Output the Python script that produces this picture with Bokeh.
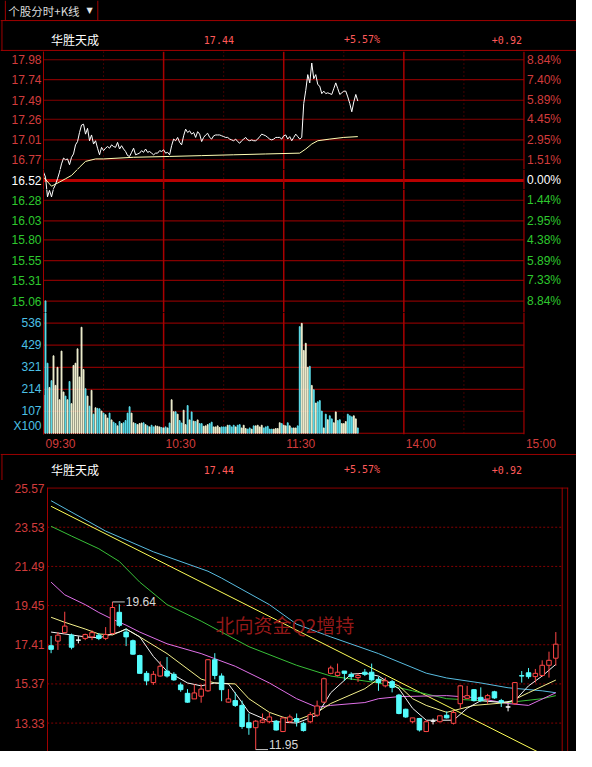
import numpy as np
from bokeh.plotting import figure
from bokeh.layouts import column
from bokeh.models import Range1d, LinearAxis, FixedTicker, Span, Label, Arrow
from bokeh.embed import file_html
from bokeh.resources import INLINE

# ---------------------------------------------------------------- data
panel_tab = "个股分时+K线"
stock_name = "华胜天成"
last_price = "17.44"
pct_change = "+5.57%"
abs_change = "+0.92"

price_ticks = [17.98, 17.74, 17.49, 17.26, 17.01, 16.77, 16.52,
               16.28, 16.03, 15.80, 15.55, 15.31, 15.06]
price_labels = ["17.98", "17.74", "17.49", "17.26", "17.01", "16.77", "16.52",
                "16.28", "16.03", "15.80", "15.55", "15.31", "15.06"]
pct_labels = ["8.84%", "7.40%", "5.89%", "4.45%", "2.95%", "1.51%", "0.00%",
              "1.44%", "2.95%", "4.38%", "5.89%", "7.33%", "8.84%"]
prev_close = 16.52
vol_ticks = [536, 429, 321, 214, 107]
vol_unit_label = "X100"
vol_unit_pos = 35
session = [0, 240]
time_ticks = [0, 60, 120, 180, 240]
time_labels = ["09:30", "10:30", "11:30", "14:00", "15:00"]
hour_marks = [60, 120, 180]
half_hour_marks = [30, 90, 150, 210]

# intraday price, one value per minute from 09:30
minute_price = [
    16.62, 16.56, 16.32, 16.40, 16.32, 16.42, 16.47, 16.54, 16.62, 16.72,
    16.79, 16.77, 16.78, 16.71, 16.80, 16.84, 16.95, 16.99, 17.10, 17.19,
    17.20, 17.08, 17.15, 17.00, 17.07, 16.96, 17.00, 16.91, 16.83, 16.92,
    16.88, 16.91, 16.93, 16.91, 16.95, 16.93, 16.92, 16.98, 16.90, 16.94,
    16.90, 16.87, 16.82, 16.81, 16.86, 16.91, 16.83, 16.84, 16.85, 16.88,
    16.86, 16.90, 16.86, 16.87, 16.85, 16.83, 16.85, 16.85, 16.88, 16.87,
    16.89, 16.85, 16.86, 16.83, 16.94, 17.02, 17.00, 17.04, 16.98, 16.95,
    17.06, 17.14, 17.10, 17.12, 17.08, 17.10, 17.04, 17.11, 17.08, 16.99,
    17.04, 17.07, 17.09, 17.04, 17.02, 17.06, 17.07, 17.07, 17.07, 17.06,
    17.05, 17.04, 17.04, 17.02, 17.01, 17.00, 17.02, 16.99, 16.97, 17.00,
    17.02, 17.04, 17.01, 17.00, 17.01, 17.00, 17.00, 17.02, 17.05, 17.08,
    17.07, 17.06, 17.04, 17.02, 17.01, 17.02, 17.04, 17.04, 17.04, 17.02,
    17.06, 17.07, 17.02, 17.05, 17.00, 17.04, 17.08, 17.05, 17.02, 17.04,
    17.45, 17.61, 17.80, 17.70, 17.94, 17.75, 17.80, 17.68, 17.66, 17.57,
    17.60, 17.57, 17.58, 17.57, 17.56, 17.63, 17.70, 17.63, 17.56, 17.58,
    17.60, 17.60, 17.53, 17.45, 17.35, 17.47, 17.56, 17.48]
avg_minute = [0, 4, 8, 11, 14, 18, 21, 26, 30, 45, 63, 79, 95, 111, 128,
              131, 134, 137, 143, 150, 157]
avg_price = [16.56, 16.45, 16.50, 16.54, 16.58, 16.68, 16.75, 16.78, 16.78,
             16.80, 16.81, 16.82, 16.83, 16.84, 16.85, 16.90, 16.96, 17.00,
             17.02, 17.04, 17.05]
minute_volume = [
    186, 643, 341, 223, 256, 377, 233, 321, 163, 400,
    201, 181, 163, 252, 144, 330, 341, 411, 274, 516,
    310, 217, 181, 132, 209, 93, 124, 121, 119, 108,
    98, 90, 74, 98, 65, 54, 47, 36, 57, 47,
    51, 62, 98, 129, 98, 51, 47, 42, 47, 50,
    51, 42, 36, 31, 39, 31, 36, 34, 31, 28,
    26, 31, 26, 50, 163, 105, 105, 93, 62, 50,
    112, 42, 135, 65, 104, 59, 57, 65, 47, 47,
    34, 36, 42, 47, 54, 31, 31, 36, 28, 31,
    31, 31, 39, 39, 31, 39, 31, 39, 42, 26,
    39, 23, 20, 26, 20, 36, 36, 39,
    31, 39, 26, 31, 34, 20, 20, 20, 23,
    23, 51, 47, 39, 36, 51, 36, 26, 26, 26,
    36, 519, 535, 403, 438, 321, 326, 233, 212, 147,
    153, 159, 108, 26, 93, 66, 85, 70, 51, 104,
    62, 66, 47, 47, 57, 93, 85, 80, 85, 70, 26]

# daily candles
k_open = [17.36, 17.60, 18.04, 17.91, 17.65, 17.74, 17.82, 17.91, 17.74, 17.99,
          19.10, 18.07, 17.62, 16.85, 15.92, 15.44, 15.78, 16.04, 15.87, 15.32,
          14.88, 14.59, 14.73, 15.01, 16.63, 15.78, 14.42, 14.50, 14.25, 13.35,
          13.09, 13.37, 13.40, 13.43, 12.89, 13.40, 13.57, 13.32, 13.40, 13.74,
          14.42, 15.92, 15.81, 16.04, 15.87, 15.70, 15.98, 15.98, 15.61, 15.27,
          15.49, 14.79, 14.05, 13.40, 13.57, 12.89, 13.43, 13.40, 13.74, 13.32,
          14.34, 14.62, 15.07, 14.67, 14.59, 14.96, 14.50, 14.17, 14.34, 15.80,
          15.95, 15.75, 15.81, 16.34, 16.71]
k_close = [17.17, 17.91, 18.38, 17.28, 17.65, 17.94, 18.04, 17.74, 17.94, 19.35,
           18.42, 17.82, 16.92, 15.92, 15.53, 15.87, 16.29, 15.78, 15.58, 15.07,
           14.42, 14.90, 15.10, 16.63, 15.81, 15.07, 14.59, 14.25, 13.15, 13.09,
           13.43, 13.49, 13.65, 12.97, 13.60, 13.65, 13.40, 12.94, 13.77, 14.22,
           15.64, 16.20, 15.98, 15.92, 15.75, 15.81, 15.87, 15.58, 15.44, 15.53,
           15.19, 13.83, 13.65, 13.60, 12.97, 13.40, 13.43, 13.71, 13.60, 13.88,
           15.27, 14.76, 14.50, 14.50, 14.76, 14.64, 14.42, 14.17, 15.44, 15.78,
           15.75, 15.92, 16.34, 16.60, 17.44]
k_high = [17.87, 18.07, 19.13, 17.99, 17.85, 17.99, 18.16, 18.02, 18.33, 19.64,
          19.52, 18.25, 17.68, 16.89, 16.04, 16.04, 16.55, 16.77, 15.98, 15.44,
          15.10, 15.35, 15.35, 16.66, 16.97, 15.92, 15.10, 14.93, 14.50, 13.83,
          13.49, 13.83, 13.86, 13.49, 13.65, 13.77, 13.83, 13.40, 13.91, 14.50,
          15.70, 16.32, 16.43, 16.04, 15.98, 15.92, 16.15, 16.43, 15.75, 15.70,
          15.58, 14.85, 14.08, 13.60, 13.60, 13.49, 13.57, 13.71, 13.94, 14.00,
          15.30, 15.27, 15.10, 15.19, 14.85, 15.01, 14.59, 14.34, 15.47, 16.04,
          16.20, 16.15, 16.60, 17.05, 18.07]
k_low = [16.97, 17.14, 17.99, 17.17, 17.48, 17.65, 17.65, 17.65, 17.65, 17.96,
         18.33, 17.34, 16.89, 15.92, 15.30, 15.32, 15.75, 15.70, 15.53, 14.96,
         14.39, 14.59, 14.39, 14.96, 15.61, 14.47, 14.39, 14.17, 13.03, 12.72,
         11.95, 13.32, 13.32, 12.94, 12.86, 13.32, 13.15, 12.89, 13.32, 13.65,
         14.39, 15.87, 15.75, 15.53, 15.58, 15.47, 15.78, 15.53, 15.01, 15.19,
         14.93, 13.79, 13.60, 13.32, 12.89, 12.86, 13.26, 13.37, 13.57, 13.26,
         14.08, 14.59, 14.45, 14.42, 14.34, 14.59, 14.17, 13.94, 14.29, 15.44,
         15.64, 15.44, 15.75, 15.70, 16.32]
k_ticks = [25.57, 23.53, 21.49, 19.45, 17.41, 15.37, 13.33]
k_tick_labels = ["25.57", "23.53", "21.49", "19.45", "17.41", "15.37", "13.33"]

ma5_day = [1, 3, 6, 8, 9, 11, 12, 14, 16, 18, 21, 23, 25, 27, 29, 30, 33, 35, 37,
           40, 42, 45, 47, 49, 52, 54, 56, 60, 62, 64, 67, 69, 71, 73, 75]
ma5_val = [18.07, 17.97, 17.82, 17.77, 17.87, 18.07, 18.23, 17.82, 16.80, 16.03,
           15.42, 15.27, 15.42, 15.37, 14.40, 13.89, 13.43, 13.38, 13.33, 13.74,
           14.91, 15.88, 15.93, 15.78, 15.12, 14.10, 13.48, 13.48, 14.10, 14.50,
           14.40, 14.50, 15.27, 15.78, 16.39]
ma10_day = [1, 3, 6, 8, 10, 12, 14, 18, 23, 25, 28, 30, 33, 35, 37, 40, 42, 47,
            49, 52, 54, 56, 59, 63, 68, 71, 75]
ma10_val = [18.84, 18.58, 18.23, 17.97, 17.92, 18.23, 17.82, 16.95, 15.62, 15.42,
            15.37, 14.60, 13.89, 13.64, 13.48, 13.89, 14.35, 15.12, 15.63, 15.27,
            14.60, 14.25, 13.89, 14.25, 14.40, 14.91, 15.57]
ma20_day = [1, 3, 6, 8, 10, 12, 14, 18, 23, 28, 33, 37, 40, 42, 47, 49, 52, 59,
            63, 68, 71, 75]
ma20_val = [20.67, 20.01, 19.50, 19.09, 18.74, 18.43, 18.07, 17.46, 16.95, 16.29,
            15.42, 14.60, 14.15, 14.25, 14.40, 14.60, 14.71, 14.76, 14.66, 14.35,
            14.25, 14.91]
ma60_day = [1, 4, 8, 11, 14, 18, 23, 30, 37, 42, 49, 54, 59, 64, 68, 73, 75]
ma60_val = [23.58, 23.07, 22.41, 21.75, 20.67, 19.50, 18.64, 17.31, 16.34, 15.78,
            15.42, 15.01, 14.60, 14.50, 14.40, 14.60, 14.76]
ma120_day = [1, 9, 16, 24, 26, 33, 37, 42, 49, 56, 59, 64, 68, 73, 75]
ma120_val = [24.91, 23.33, 22.25, 21.24, 20.88, 19.50, 18.48, 17.82, 16.95, 15.93,
             15.68, 15.42, 15.17, 15.01, 14.91]
trend_day = [1, 75]
trend_val = [24.62, 11.36]
note_text = "北向资金Q2增持"

# ---------------------------------------------------------------- style
W = 576
SX = 576 / 592
SY = 751 / 767
BL, BR = 43, 8
BG = "#000000"
GRID_RED = "#840000"
AXIS_RED = "#a00000"
VLINE_RED = "#a80000"
TXT_RED = "#d23c3c"
TXT_GREEN = "#2ec82e"
TXT_WHITE = "#ffffff"
TXT_CYAN = "#4cc0e6"
HEAD_RED = "#ff5a5a"
UP_BAR = "#f2f2d2"
DOWN_BAR = "#5ce0ee"
K_UP = "#ff4646"
K_DOWN = "#54fcfc"
NUM_FONT = "Liberation Sans"
CJK_FONT = "Noto Sans CJK SC"

MIN_PX = (538.0 * SX - BL) / 240.0          # canvas px per minute
X_END_MIN = (W - BR - BL) / MIN_PX           # minute at the right frame edge


def price_at(yref):
    return 17.98 - (yref - 60.5) * (2.92 / 246.5)


def vol_at(yref):
    return (445.0 - yref) * (642.0 / 138.0)


def base_fig(height, xr, yr, **kw):
    opts = dict(width=W, height=height, x_range=xr, y_range=yr,
                output_backend="svg", toolbar_location=None, title=None,
                x_axis_type=None, y_axis_type=None,
                background_fill_color=BG, border_fill_color=BG,
                outline_line_color=None, min_border=0,
                min_border_left=BL, min_border_right=BR, frame_align=False)
    opts.update(kw)
    return figure(**opts)


def style_axis(ax, color, standoff=3):
    ax.axis_line_color = AXIS_RED
    ax.major_tick_line_color = None
    ax.minor_tick_line_color = None
    ax.major_tick_in = 0
    ax.major_tick_out = 0
    ax.major_label_text_color = color
    ax.major_label_text_font = NUM_FONT
    ax.major_label_text_font_size = "12px"
    ax.major_label_standoff = standoff


def rule(p, x0, y0, x1, y1, color=AXIS_RED, width=1):
    p.add_layout(Arrow(x_start=x0, y_start=y0, x_end=x1, y_end=y1, start=None,
                       end=None, line_color=color, line_width=width))


def header_fig(height, ref_top, ref_bot):
    return base_fig(height, Range1d(0, 592), Range1d(ref_bot, ref_top),
                    min_border_left=0, min_border_right=0)


def add_quote_row(p, yref):
    p.add_layout(Label(x=52, y=yref, text=stock_name, text_color="#ffffff",
                       text_font=CJK_FONT, text_font_size="12px",
                       text_baseline="middle"))
    for xr, t in [(209, last_price), (353, pct_change), (505, abs_change)]:
        p.add_layout(Label(x=xr, y=yref, text=t, text_color=HEAD_RED,
                           text_font="DejaVu Sans Mono", text_font_size="10px",
                           text_baseline="middle"))


# ---------------------------------------------------------------- header 1
h1 = header_fig(51, 0, 52.09)
rule(h1, 0, 20.5, 592, 20.5)
rule(h1, 5, 0, 5, 20.5)
rule(h1, 100, 0, 100, 20.5)
rule(h1, 0, 51, 592, 51)
rule(h1, 1.5, 20.5, 1.5, 52.09)
h1.add_layout(Label(x=8, y=10.5, text=panel_tab, text_color="#dcdcdc",
                    text_font=CJK_FONT, text_font_size="11.5px", text_baseline="middle"))
h1.add_layout(Label(x=88.5, y=10.5, text="▼", text_color="#e6e6e6",
                    text_font="DejaVu Sans", text_font_size="8px", text_baseline="middle"))
add_quote_row(h1, 40)

# ---------------------------------------------------------------- intraday strips
minutes = list(range(len(minute_price)))
vol_colors = []
for m in minutes:
    prev = minute_price[m - 1] if m > 0 else prev_close
    vol_colors.append(UP_BAR if minute_price[m] >= prev else DOWN_BAR)

tick_pct = dict(zip(price_ticks, pct_labels))
tick_txt = dict(zip(price_ticks, price_labels))


def intraday_frame(top, bot, bottom_border):
    ref_top = top / SY
    ref_bot = (bot - bottom_border) / SY
    p = base_fig(bot - top, Range1d(0, X_END_MIN),
                 Range1d(price_at(ref_bot), price_at(ref_top)),
                 min_border_bottom=bottom_border)
    p.extra_y_ranges = {"vol": Range1d(vol_at(ref_bot), vol_at(ref_top))}
    for t in hour_marks:
        p.add_layout(Span(location=t, dimension="height", line_color=VLINE_RED,
                          line_width=1.5, level="underlay"))
    p.add_layout(Span(location=session[1], dimension="height", line_color=AXIS_RED,
                      line_width=1.2, level="underlay"))
    for t in half_hour_marks:
        p.add_layout(Span(location=t, dimension="height", line_color=GRID_RED,
                          line_width=1, line_dash="1 3", level="underlay"))
    return p


def hlines(p, vals, color, width, range_name="default"):
    n = len(vals)
    p.segment(x0=[session[0]] * n, y0=vals, x1=[session[1]] * n, y1=vals,
              line_color=color, line_width=width, y_range_name=range_name,
              level="underlay")


strip_specs = [
    # top row, bottom row, price ticks, label colour, draw volume
    (51, 169, price_ticks[:6], TXT_RED, False),
    (169, 189, price_ticks[6:7], TXT_WHITE, False),
    (189, 312, price_ticks[7:], TXT_GREEN, True),
]

strips = []
for top, bot, ticks, col, with_vol in strip_specs:
    p = intraday_frame(top, bot, 0)
    left = LinearAxis(ticker=FixedTicker(ticks=ticks),
                      major_label_overrides={t: tick_txt[t] for t in ticks})
    style_axis(left, col, 2)
    p.add_layout(left, "left")
    for t in ticks:
        p.add_layout(Label(x=session[1], y=t, x_offset=3, text=tick_pct[t],
                           text_color=col, text_font=NUM_FONT, text_font_size="12px",
                           text_align="left", text_baseline="middle"))
    if len(ticks) > 1:
        hlines(p, ticks, GRID_RED, 1.2)
    else:
        hlines(p, [prev_close], "#b80000", 3)
    if with_vol:
        p.vbar(x=minutes, top=minute_volume, bottom=0, width=0.42,
               color=vol_colors, y_range_name="vol")
    p.line(avg_minute, avg_price, line_color="#ffffb4", line_width=1)
    p.line(minutes, minute_price, line_color="#ffffff", line_width=1)
    strips.append(p)

# volume strip with time axis
s4 = intraday_frame(312, 453, 16)
vleft = LinearAxis(y_range_name="vol",
                   ticker=FixedTicker(ticks=vol_ticks + [vol_unit_pos]),
                   major_label_overrides={**{v: str(v) for v in vol_ticks},
                                          vol_unit_pos: vol_unit_label})
style_axis(vleft, TXT_CYAN, 2)
s4.add_layout(vleft, "left")
hlines(s4, vol_ticks, GRID_RED, 1.2, "vol")
hlines(s4, [0], AXIS_RED, 1.2, "vol")
label_shift = 17.0 / MIN_PX            # labels sit just right of their hour line
tax = LinearAxis(ticker=FixedTicker(ticks=[t + label_shift for t in time_ticks]),
                 major_label_overrides={t + label_shift: lab
                                        for t, lab in zip(time_ticks, time_labels)})
style_axis(tax, TXT_RED, 2)
tax.axis_line_color = None
s4.add_layout(tax, "below")
s4.vbar(x=minutes, top=minute_volume, bottom=0, width=0.42, color=vol_colors,
        y_range_name="vol")
strips.append(s4)

# ---------------------------------------------------------------- header 2
h2 = header_fig(27, 462.65, 490.23)
rule(h2, 0, 463.6, 592, 463.6)
rule(h2, 1.5, 463.6, 1.5, 490.23)
add_quote_row(h2, 479)

# ---------------------------------------------------------------- K-line chart
def day_of(xref):
    return 1 + (xref - 52) / 7.01


CL = 47
c = base_fig(271, Range1d(day_of(CL / SX), day_of((W - BR) / SX)), Range1d(11.85, 25.60),
             min_border_top=7, min_border_left=CL)
kax = LinearAxis(ticker=FixedTicker(ticks=k_ticks),
                 major_label_overrides=dict(zip(k_ticks, k_tick_labels)))
style_axis(kax, TXT_RED, 3)
c.add_layout(kax, "left")
nk = len(k_ticks) - 1
c.segment(x0=[day_of(48)] * nk, y0=k_ticks[1:], x1=[day_of(577)] * nk, y1=k_ticks[1:],
          line_color=GRID_RED, line_dash="2 2", line_width=1, level="underlay")
c.add_layout(Span(location=k_ticks[0] + 0.01, dimension="width", line_color=AXIS_RED,
                  line_width=1.2, level="underlay"))
c.add_layout(Span(location=day_of(577.3), dimension="height", line_color=AXIS_RED,
                  line_width=1, level="underlay"))
c.add_layout(Span(location=day_of(583.0), dimension="height", line_color=AXIS_RED,
                  line_width=1, level="underlay"))

c.add_layout(Label(x=day_of(221), y=18.48, text=note_text, text_color="#a81c1c",
                   text_font=CJK_FONT, text_font_size="19px", text_baseline="middle",
                   text_alpha=0.9))

c.line(trend_day, trend_val, line_color="#ffff58", line_width=1)
c.line(ma120_day, ma120_val, line_color="#58bce0", line_width=1)
c.line(ma60_day, ma60_val, line_color="#38c038", line_width=1)
c.line(ma20_day, ma20_val, line_color="#e070e8", line_width=1)
c.line(ma10_day, ma10_val, line_color="#f4f08c", line_width=1)
c.line(ma5_day, ma5_val, line_color="#f4f4f4", line_width=1)

days = list(range(1, len(k_open) + 1))
k_col, k_fill, k_top, k_bot = [], [], [], []
for o, cl in zip(k_open, k_close):
    if cl > o:
        k_col.append(K_UP); k_fill.append(BG)
    elif cl < o:
        k_col.append(K_DOWN); k_fill.append(K_DOWN)
    else:
        k_col.append("#ffffff"); k_fill.append("#ffffff")
    k_top.append(max(o, cl)); k_bot.append(min(o, cl))
c.segment(x0=days, y0=k_low, x1=days, y1=k_high, line_color=k_col, line_width=1)
c.vbar(x=days, top=k_top, bottom=k_bot, width=0.66, fill_color=k_fill,
       line_color=k_col, line_width=1)

hi_i = int(np.argmax(k_high)); lo_i = int(np.argmin(k_low))
for i, v, dy in [(hi_i, k_high[hi_i], 0), (lo_i, k_low[lo_i], 5)]:
    d = days[i]
    c.segment(x0=[d], y0=[v], x1=[d + 1.8], y1=[v], line_color="#c8c8c8", line_width=1)
    c.add_layout(Label(x=d + 1.95, y=v, y_offset=dy, text=f"{v:.2f}", text_color="#d8d8d8",
                       text_font=NUM_FONT, text_font_size="12px",
                       text_baseline="middle"))

layout = column(h1, *strips, h2, c, spacing=0)
layout.styles = {"background-color": "#000000"}
open("out.html", "w").write(file_html(layout, INLINE))
